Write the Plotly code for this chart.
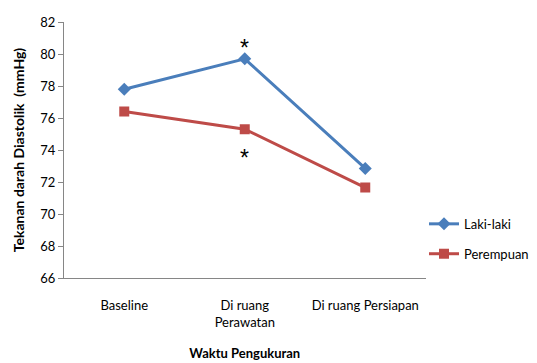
import plotly.graph_objects as go

categories = ["Baseline", "Di ruang<br>Perawatan", "Di ruang Persiapan"]
laki = [77.8, 79.7, 72.85]
perempuan = [76.4, 75.3, 71.65]
y_ticks = [66, 68, 70, 72, 74, 76, 78, 80, 82]
sig_index = 1

FONT = "Lato"
fig = go.Figure()
fig.add_trace(go.Scatter(
    x=list(range(len(categories))), y=laki, name="Laki-laki", mode="lines+markers",
    legendgroup="a",
    line=dict(color="#4A7EBB", width=3),
    marker=dict(symbol="diamond", size=10, color="#4A7EBB"),
))
fig.add_trace(go.Scatter(
    x=list(range(len(categories))), y=perempuan, name="Perempuan", mode="lines+markers",
    legendgroup="b",
    line=dict(color="#BE4B48", width=3),
    marker=dict(symbol="square", size=10, color="#BE4B48"),
))

fig.add_annotation(x=sig_index, y=laki[sig_index], text="*", showarrow=False,
                   yshift=11, font=dict(size=23, color="black", family="Liberation Sans"))
fig.add_annotation(x=sig_index, y=perempuan[sig_index], text="*", showarrow=False,
                   yshift=-29, font=dict(size=23, color="black", family="Liberation Sans"))

W, L = 537, 64
plot_w = 361.5
fig.update_layout(
    width=W, height=363,
    margin=dict(l=L, r=0, t=22, b=85),
    plot_bgcolor="white", paper_bgcolor="white",
    font=dict(family=FONT, size=13, color="black"),
    showlegend=True,
    legend=dict(x=(424 - L) / (W - L), y=0.27, xanchor="left", yanchor="top",
                font=dict(family=FONT, size=13, color="black"),
                tracegroupgap=10, itemwidth=30, bgcolor="rgba(0,0,0,0)"),
    xaxis=dict(
        domain=[0, plot_w / (W - L)], automargin=False,
        range=[-0.5, 2.5], tickmode="array",
        tickvals=list(range(len(categories))), ticktext=categories,
        showline=True, linecolor="#868686", linewidth=1,
        ticks="", showgrid=False, zeroline=False,
        ticklabelstandoff=15,
        tickfont=dict(family=FONT, size=13, color="black"),
        title=dict(text="<b>Waktu Pengukuran</b>", standoff=20,
                   font=dict(family=FONT, size=13, color="black")),
    ),
    yaxis=dict(
        range=[66, 82], tickmode="array", tickvals=y_ticks, automargin=False,
        showline=True, linecolor="#868686", linewidth=1,
        ticks="outside", ticklen=5, tickcolor="#868686",
        showgrid=False, zeroline=False,
        tickfont=dict(family=FONT, size=13, color="black"),
        title=dict(text="<b>Tekanan darah Diastolik  (mmHg)</b>", standoff=12,
                   font=dict(family=FONT, size=14, color="black")),
    ),
)

fig.write_html("out.html")
